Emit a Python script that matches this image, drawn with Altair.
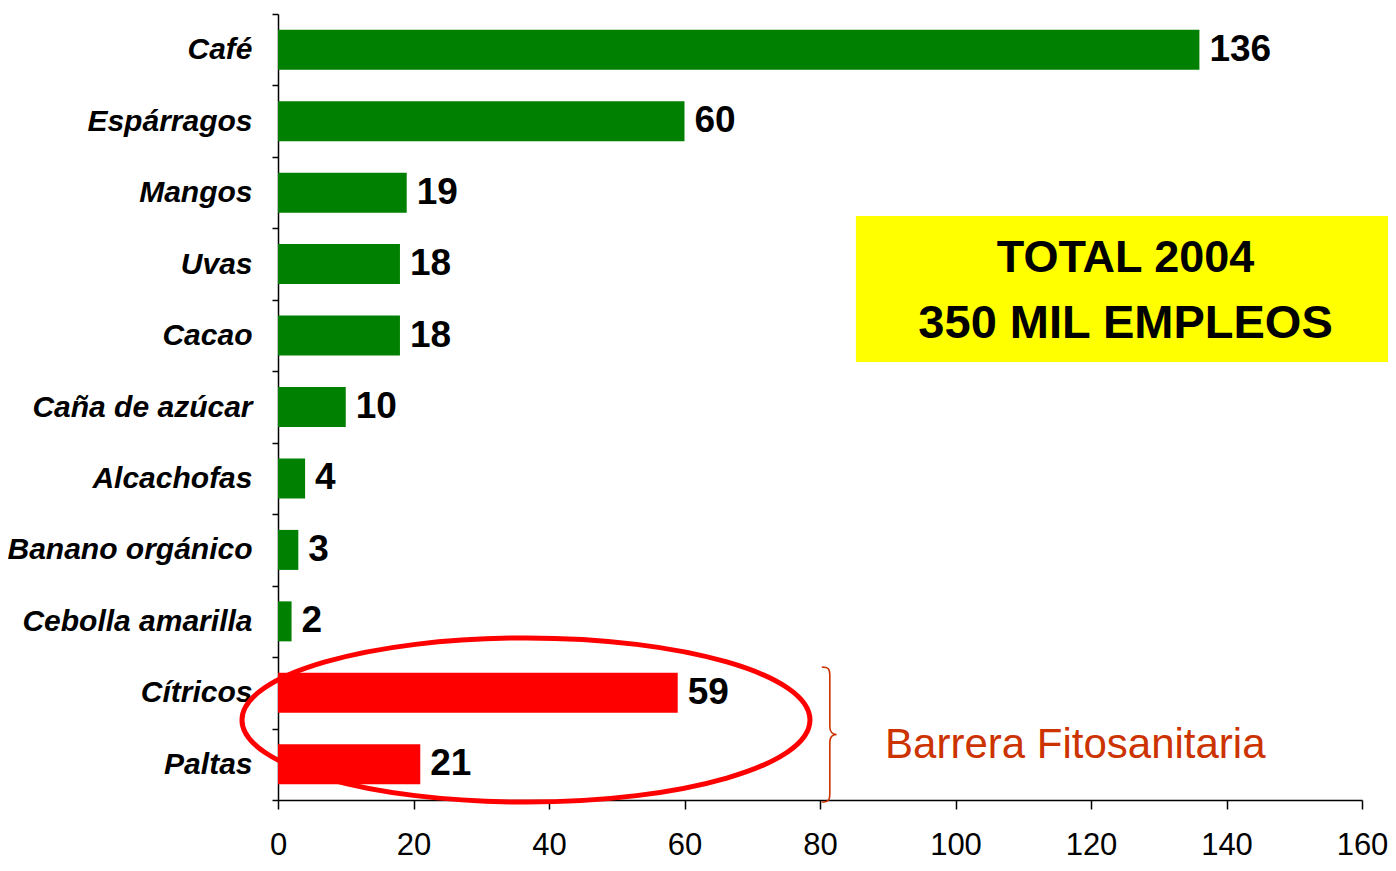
import altair as alt
import pandas as pd

# ---------------- data ----------------
categories = ["Café", "Espárragos", "Mangos", "Uvas", "Cacao", "Caña de azúcar",
              "Alcachofas", "Banano orgánico", "Cebolla amarilla", "Cítricos", "Paltas"]
values = [136, 60, 19, 18, 18, 10, 4, 3, 2, 59, 21]
groups = ["Exportación"] * 9 + ["Barrera"] * 2
x_ticks = [0, 20, 40, 60, 80, 100, 120, 140, 160]
box_lines = ["TOTAL 2004", "350 MIL EMPLEOS"]
note_text = "Barrera Fitosanitaria"

df = pd.DataFrame({"cultivo": categories, "empleos": values, "grupo": groups})
one = pd.DataFrame({"k": [0]})

SANS = "'Liberation Sans', Arial, sans-serif"

x_enc = alt.X(
    "empleos:Q",
    scale=alt.Scale(domain=[0, 160], nice=False),
    axis=alt.Axis(values=x_ticks, title=None, grid=False, tickSize=9, tickWidth=1.5,
                  tickColor="black", domainColor="black", domainWidth=1.5,
                  labelFont=SANS, labelFontSize=31, labelColor="black",
                  labelPadding=21, labelFlush=False),
)
y_enc = alt.Y(
    "cultivo:N",
    sort=categories,
    scale=alt.Scale(paddingInner=0, paddingOuter=0),
    axis=alt.Axis(title=None, tickBand="extent", tickSize=6, tickWidth=1.5,
                  tickColor="black", domainColor="black", domainWidth=1.5,
                  labelFont=SANS, labelFontSize=30, labelFontWeight="bold",
                  labelFontStyle="italic", labelColor="black", labelPadding=20,
                  labelLimit=400),
)

base = alt.Chart(df)

bars = base.mark_bar(size=40).encode(
    x=x_enc,
    y=y_enc,
    color=alt.Color("grupo:N",
                    scale=alt.Scale(domain=["Exportación", "Barrera"],
                                    range=["#008000", "#FF0000"]),
                    legend=None),
)

labels = base.mark_text(align="left", baseline="middle", dx=10, font=SANS,
                        fontSize=37, fontWeight="bold", color="black").encode(
    x="empleos:Q",
    y=alt.Y("cultivo:N", sort=categories),
    text="empleos:Q",
)

ann = alt.Chart(one)

box = ann.mark_rect(color="#FFFF00").encode(
    x=alt.datum(85.3), x2=alt.datum(175),
    y=alt.value(202), y2=alt.value(348),
)
box_t1 = ann.mark_text(text=box_lines[0], align="center", baseline="middle",
                       font=SANS, fontSize=45, fontWeight="bold", color="black").encode(
    x=alt.datum(125.1), y=alt.value(244),
)
box_t2 = ann.mark_text(text=box_lines[1], align="center", baseline="middle",
                       font=SANS, fontSize=47, fontWeight="bold", color="black").encode(
    x=alt.datum(125.1), y=alt.value(310),
)

k = 0.5523
r = 0.289
ELLIPSE = (f"M 1 0 C 1 {k*r:.4f} {k:.4f} {r} 0 {r} "
           f"C {-k:.4f} {r} -1 {k*r:.4f} -1 0 "
           f"C -1 {-k*r:.4f} {-k:.4f} {-r} 0 {-r} "
           f"C {k:.4f} {-r} 1 {-k*r:.4f} 1 0 Z")
ellipse = ann.mark_point(shape=ELLIPSE, size=568 ** 2, filled=False,
                         stroke="#FF0000", strokeWidth=5, opacity=1).encode(
    x=alt.datum(36.6), y=alt.value(706),
)

BRACE = ("M -0.12 -1 C -0.02 -1 0 -0.97 0 -0.88 L 0 -0.12 "
         "C 0 -0.04 0.04 0 0.1 0 C 0.04 0 0 0.04 0 0.12 "
         "L 0 0.88 C 0 0.97 -0.02 1 -0.12 1")
brace = ann.mark_point(shape=BRACE, size=135 ** 2, filled=False,
                       stroke="#CC3300", strokeWidth=1.6, opacity=1).encode(
    x=alt.datum(81.45), y=alt.value(720.5),
)

note = ann.mark_text(text=note_text, align="left", baseline="alphabetic",
                     font=SANS, fontSize=42, color="#CC3300").encode(
    x=alt.datum(89.6), y=alt.value(744),
)

chart = alt.layer(box, box_t1, box_t2, bars, labels, ellipse, brace, note).properties(
    width=1084, height=786,
    autosize=alt.AutoSizeParams(type="none"),
    padding={"left": 270, "top": 6, "right": 26, "bottom": 62},
    background="white",
).configure_view(stroke=None)

chart.save("out.html", embed_options={"renderer": "svg", "actions": False})
